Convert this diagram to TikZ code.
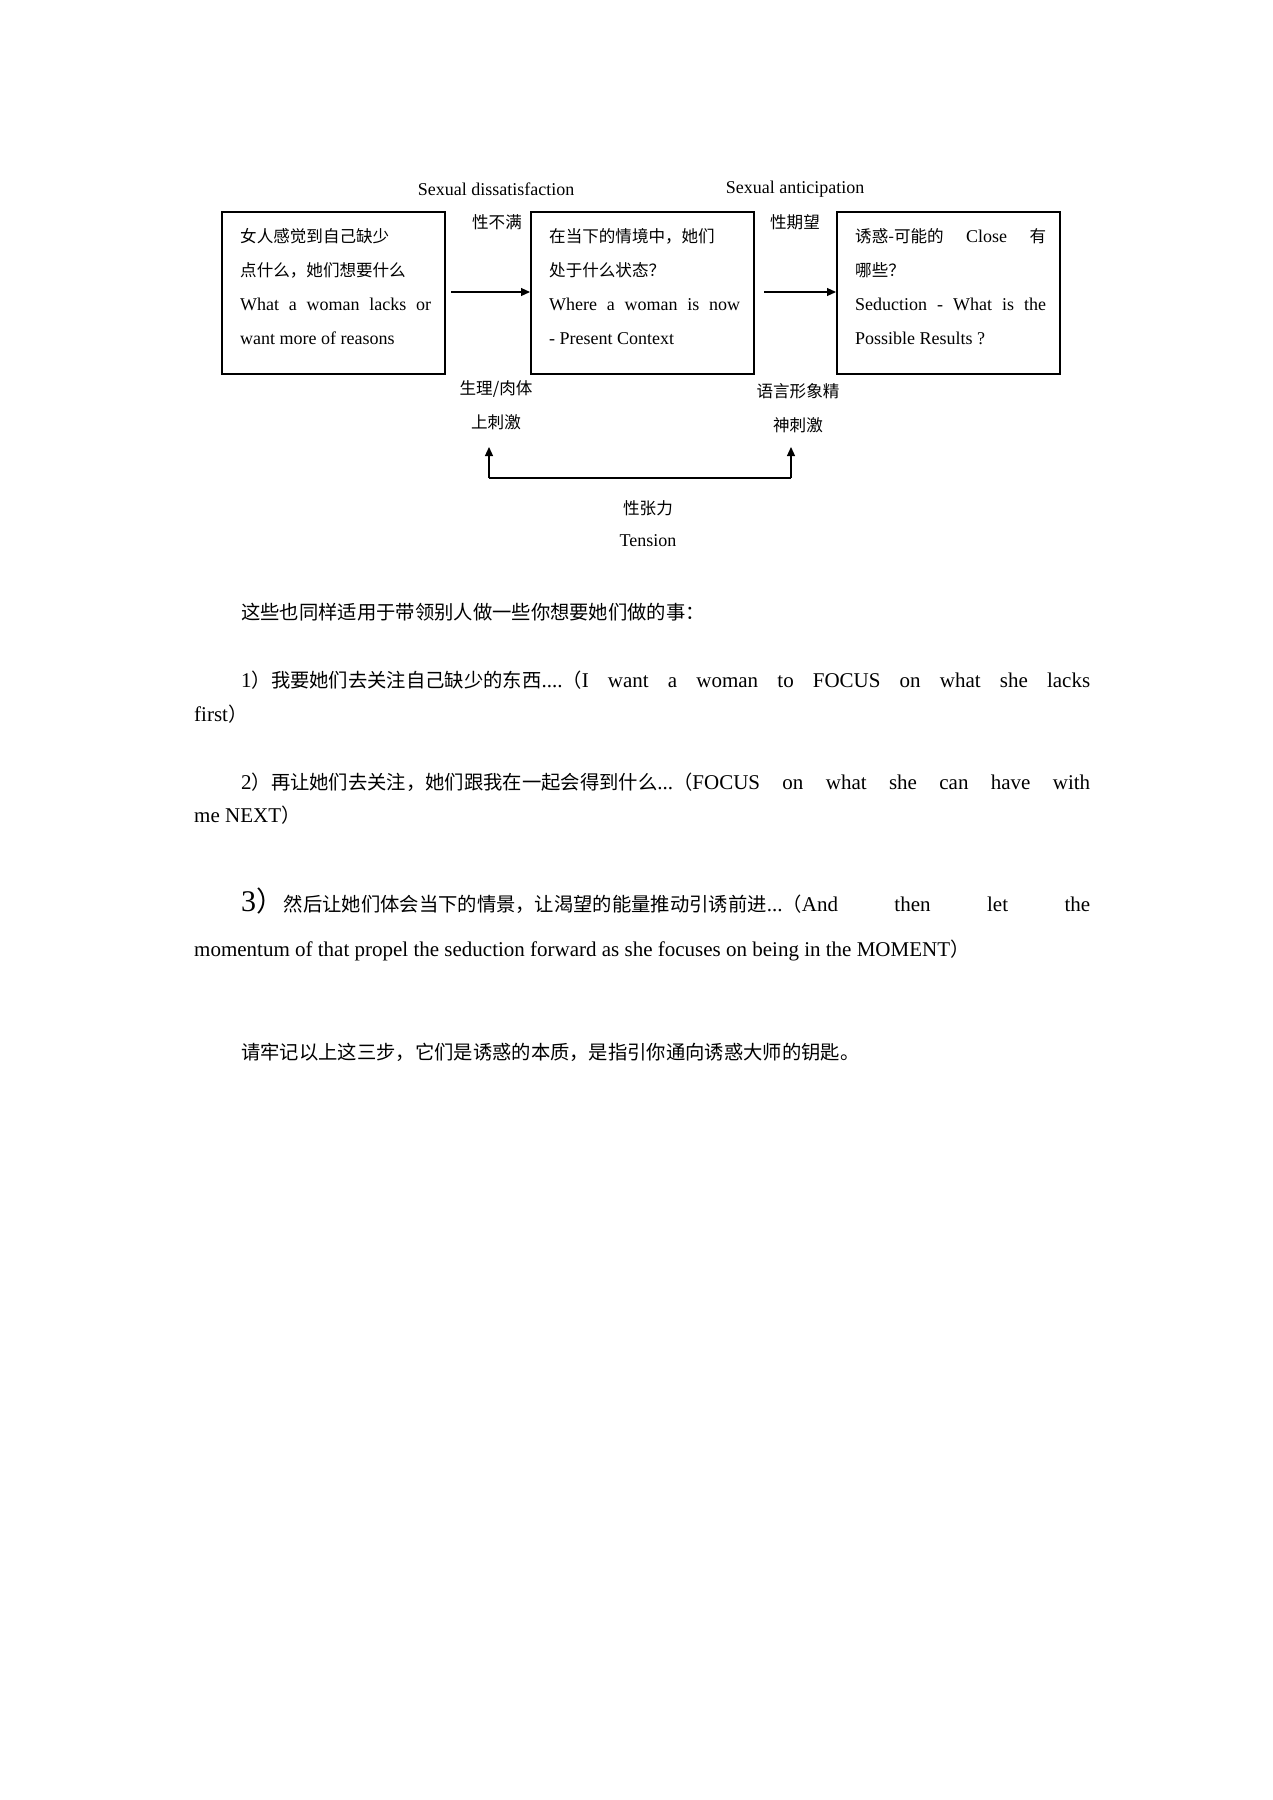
\documentclass[tikz,border=0pt]{standalone}
\usepackage{fontspec}
\setmainfont{Liberation Serif}
\newfontfamily\zhf{Noto Sans CJK SC}[Scale=0.92]
\newcommand{\zh}[1]{{\zhf #1}}
\usetikzlibrary{arrows.meta}
\begin{document}
\begin{tikzpicture}[x=1pt,y=-1pt,
  box/.style={draw,line width=1.4pt},
  t/.style={inner sep=0pt,font=\fontsize{18}{18}\selectfont},
  bl/.style={t,anchor=base west},
  p/.style={inner sep=0pt,anchor=base west,font=\fontsize{21}{21}\selectfont},
  arr/.style={line width=1.2pt,-{Triangle[length=9pt,width=8pt]}}]
\useasboundingbox[fill=white] (0,0) rectangle (1273,1800);
% boxes
\draw[box] (222,212) rectangle (445,374);
\draw[box] (531,212) rectangle (754,374);
\draw[box] (837,212) rectangle (1060,374);
\node[bl] (a1) at (240,242) {\zh{女人感觉到自己缺少}};
\node[bl] (a2) at (240,276) {\zh{点什么，她们想要什么}};
\node[bl] (a3) at (240,310) {\makebox[191pt][s]{What a woman lacks or}};
\node[bl] (a4) at (240,344) {want more of reasons};
\node[bl] (b1) at (549,242) {\zh{在当下的情境中，她们}};
\node[bl] (b2) at (549,276) {\zh{处于什么状态？}};
\node[bl] (b3) at (549,310) {\makebox[191pt][s]{Where a woman is now}};
\node[bl] (b4) at (549,344) {- Present Context};
\node[bl] (c1) at (855,242) {\makebox[191pt][s]{\zh{诱惑-可能的} Close \zh{有}}};
\node[bl] (c2) at (855,276) {\zh{哪些？}};
\node[bl] (c3) at (855,310) {\makebox[191pt][s]{Seduction - What is the}};
\node[bl] (c4) at (855,344) {Possible Results ?};
% arrows
\coordinate (p1) at (451,292); \coordinate (q1) at (530,292);
\coordinate (p2) at (764,292); \coordinate (q2) at (836,292);
\draw[arr] (p1) -- (q1);
\draw[arr] (p2) -- (q2);
\node[t] (l1) at (496,189) {Sexual dissatisfaction};
\node[t] (l2) at (795,189) {Sexual anticipation};
\node[t] (l3) at (497,222) {\zh{性不满}};
\node[t] (l4) at (795,222) {\zh{性期望}};
\node[t] (s1) at (496,389) {\zh{生理/肉体}};
\node[t] (s2) at (496,422) {\zh{上刺激}};
\node[t] (r1) at (798,391) {\zh{语言形象精}};
\node[t] (r2) at (798,425) {\zh{神刺激}};
\coordinate (tl) at (489,447); \coordinate (tr) at (791,447);
\coordinate (bl0) at (489,478); \coordinate (br0) at (791,478);
\draw[arr] (bl0) -- (tl);
\draw[arr] (br0) -- (tr);
\draw[line width=1.2pt] (bl0) -- (br0);
\node[t] (te1) at (648,508) {\zh{性张力}};
\node[t] (te2) at (648,541) {Tension};
% paragraphs
\node[p] (x1) at (241,619) {\zh{这些也同样适用于带领别人做一些你想要她们做的事：}};
\node[p] (x2) at (241,687) {\makebox[849pt][s]{1\zh{）我要她们去关注自己缺少的东西}....\zh{（}I want a woman to FOCUS on what she lacks}};
\node[p] (x3) at (194,721) {first\zh{）}};
\node[p] (x4) at (241,789) {\makebox[849pt][s]{2\zh{）再让她们去关注，她们跟我在一起会得到什么}...\zh{（}FOCUS on what she can have with}};
\node[p] (x5) at (194,822) {me NEXT\zh{）}};
\node[p] (x6) at (241,911) {\makebox[849pt][s]{{\fontsize{30}{30}\selectfont 3\zh{）}}\zh{然后让她们体会当下的情景，让渴望的能量推动引诱前进}...\zh{（}And then let the}};
\node[p] (x7) at (194,956) {momentum of that propel the seduction forward as she focuses on being in the MOMENT\zh{）}};
\node[p] (x8) at (241,1059) {\zh{请牢记以上这三步，它们是诱惑的本质，是指引你通向诱惑大师的钥匙。}};
\end{tikzpicture}
\end{document}
